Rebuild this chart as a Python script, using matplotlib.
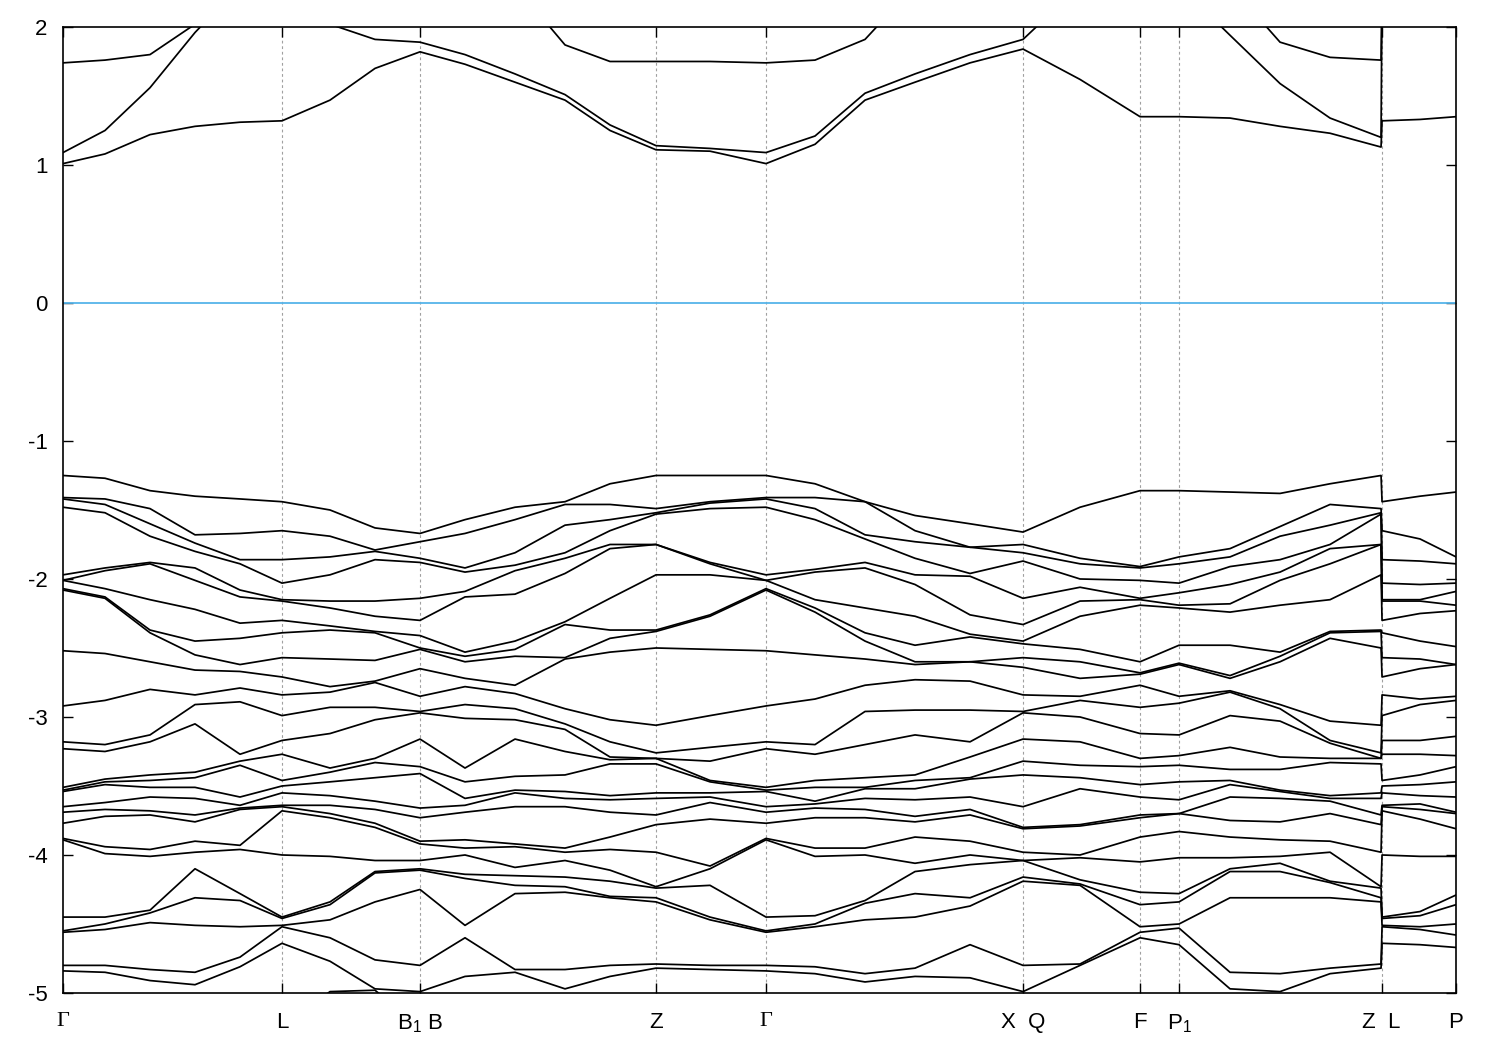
import numpy as np
import matplotlib
matplotlib.use("Agg")
import matplotlib.pyplot as plt

plt.rcParams['font.family'] = ['Liberation Sans', 'DejaVu Sans']
plt.rcParams['mathtext.default'] = 'regular'
plt.rcParams['axes.unicode_minus'] = False

# ---------------- k-path sample positions (arbitrary path units) ----------------
k_path = [0.00, 0.42, 0.87, 1.32, 1.77, 2.19, 2.67, 3.12, 3.57, 4.02, 4.52, 5.02,
          5.47, 5.93, 6.47, 7.03, 7.52, 8.02, 8.52, 9.07, 9.60, 10.17, 10.77, 11.16,
          11.67, 12.17, 12.67, 13.18, 13.19, 13.57, 13.93]

sym_pos = [0.00, 2.19, 3.57, 5.93, 7.03, 9.60, 10.77, 11.16, 13.185, 13.93]
sym_labels = ['Γ', 'L', 'B$_1$ B', 'Z', 'Γ', 'X  Q', 'F', 'P$_1$', 'Z  L', 'P']

# ---------------- valence bands: energies (eV) at each k sample, top to bottom ----------------
v_G   = [-1.25, -1.41, -1.42, -1.48, -1.97, -2.01, -2.01, -2.07, -2.08, -2.52, -2.92, -3.18, -3.23, -3.51, -3.53, -3.54, -3.65, -3.69, -3.77, -3.88, -3.89, -4.45, -4.55, -4.56, -4.80, -4.84, -5.25]
v_01  = [-1.27, -1.42, -1.46, -1.52, -1.92, -1.94, -2.07, -2.13, -2.14, -2.54, -2.88, -3.20, -3.25, -3.45, -3.47, -3.49, -3.62, -3.67, -3.72, -3.94, -3.99, -4.45, -4.50, -4.54, -4.80, -4.85, -5.25]
v_02  = [-1.36, -1.49, -1.60, -1.69, -1.88, -1.89, -2.15, -2.37, -2.39, -2.60, -2.80, -3.13, -3.18, -3.42, -3.46, -3.51, -3.58, -3.68, -3.71, -3.96, -4.01, -4.40, -4.42, -4.49, -4.83, -4.91, -5.25]
v_03  = [-1.40, -1.68, -1.74, -1.80, -1.92, -2.01, -2.22, -2.45, -2.55, -2.66, -2.84, -2.91, -3.05, -3.40, -3.44, -3.51, -3.59, -3.71, -3.76, -3.90, -3.98, -4.10, -4.31, -4.51, -4.85, -4.94, -5.25]
v_04  = [-1.42, -1.67, -1.86, -1.89, -2.08, -2.13, -2.32, -2.43, -2.62, -2.67, -2.79, -2.89, -3.27, -3.32, -3.35, -3.58, -3.64, -3.66, -3.67, -3.93, -3.96, -4.28, -4.33, -4.52, -4.74, -4.81, -5.25]
v_L   = [-1.44, -1.65, -1.86, -2.03, -2.15, -2.16, -2.30, -2.39, -2.57, -2.71, -2.84, -2.99, -3.17, -3.27, -3.46, -3.50, -3.55, -3.64, -3.65, -3.68, -4.00, -4.45, -4.46, -4.51, -4.52, -4.64, -5.25]
v_06  = [-1.50, -1.69, -1.84, -1.97, -2.16, -2.21, -2.34, -2.37, -2.58, -2.78, -2.82, -2.93, -3.12, -3.37, -3.40, -3.47, -3.57, -3.64, -3.70, -3.73, -4.01, -4.34, -4.36, -4.47, -4.60, -4.77, -4.99]
v_07  = [-1.63, -1.79, -1.80, -1.86, -2.16, -2.27, -2.38, -2.39, -2.59, -2.74, -2.75, -2.93, -3.02, -3.30, -3.33, -3.44, -3.61, -3.67, -3.77, -3.80, -4.04, -4.12, -4.13, -4.34, -4.76, -4.97, -4.98]
v_B   = [-1.67, -1.73, -1.85, -1.88, -2.14, -2.30, -2.41, -2.50, -2.51, -2.65, -2.85, -2.96, -2.97, -3.16, -3.36, -3.41, -3.66, -3.73, -3.90, -3.92, -4.04, -4.10, -4.11, -4.25, -4.80, -4.99, -5.25]
v_09  = [-1.57, -1.67, -1.92, -1.95, -2.09, -2.13, -2.53, -2.56, -2.60, -2.72, -2.78, -2.91, -3.01, -3.37, -3.47, -3.59, -3.64, -3.69, -3.89, -3.95, -4.00, -4.14, -4.17, -4.51, -4.60, -4.88, -5.25]
v_10  = [-1.48, -1.57, -1.81, -1.90, -1.94, -2.11, -2.45, -2.51, -2.56, -2.77, -2.83, -2.94, -3.02, -3.16, -3.43, -3.53, -3.55, -3.65, -3.92, -3.94, -4.09, -4.15, -4.22, -4.28, -4.83, -4.85, -5.25]
v_11  = [-1.44, -1.46, -1.61, -1.81, -1.85, -1.96, -2.31, -2.33, -2.57, -2.58, -2.94, -3.05, -3.09, -3.25, -3.42, -3.54, -3.59, -3.65, -3.95, -3.98, -4.04, -4.16, -4.23, -4.27, -4.83, -4.97, -5.25]
v_12  = [-1.31, -1.46, -1.57, -1.65, -1.75, -1.78, -2.14, -2.37, -2.43, -2.53, -3.02, -3.18, -3.29, -3.31, -3.34, -3.57, -3.60, -3.69, -3.87, -3.96, -4.11, -4.19, -4.30, -4.31, -4.80, -4.88, -5.25]
v_Z   = [-1.25, -1.49, -1.52, -1.53, -1.75, -1.75, -1.97, -2.37, -2.38, -2.50, -3.06, -3.26, -3.30, -3.30, -3.34, -3.55, -3.59, -3.71, -3.78, -3.98, -4.23, -4.24, -4.31, -4.34, -4.79, -4.82, -5.25]
v_14  = [-1.25, -1.44, -1.45, -1.49, -1.88, -1.89, -1.97, -2.26, -2.27, -2.51, -2.99, -3.22, -3.32, -3.46, -3.47, -3.55, -3.58, -3.62, -3.74, -4.08, -4.10, -4.22, -4.45, -4.47, -4.80, -4.83, -5.25]
v_16  = [-1.31, -1.41, -1.49, -1.57, -1.93, -1.95, -2.15, -2.21, -2.24, -2.55, -2.87, -3.20, -3.27, -3.46, -3.51, -3.61, -3.63, -3.66, -3.73, -3.95, -4.01, -4.44, -4.50, -4.52, -4.81, -4.86, -5.25]
v_17  = [-1.44, -1.44, -1.68, -1.71, -1.88, -1.92, -2.21, -2.39, -2.45, -2.58, -2.77, -2.96, -3.20, -3.44, -3.51, -3.52, -3.59, -3.67, -3.73, -3.95, -4.00, -4.33, -4.35, -4.47, -4.86, -4.92, -5.25]
v_18  = [-1.54, -1.65, -1.73, -1.85, -1.97, -2.04, -2.27, -2.48, -2.60, -2.62, -2.73, -2.95, -3.13, -3.42, -3.46, -3.52, -3.60, -3.72, -3.76, -3.87, -4.06, -4.12, -4.28, -4.45, -4.82, -4.88, -5.25]
v_19  = [-1.60, -1.77, -1.77, -1.96, -1.98, -2.26, -2.40, -2.42, -2.60, -2.60, -2.74, -2.95, -3.18, -3.29, -3.44, -3.45, -3.58, -3.67, -3.71, -3.90, -4.00, -4.07, -4.31, -4.37, -4.65, -4.89, -5.25]
v_X   = [-1.66, -1.75, -1.81, -1.87, -2.14, -2.33, -2.45, -2.47, -2.57, -2.64, -2.84, -2.96, -2.97, -3.16, -3.32, -3.42, -3.65, -3.80, -3.81, -3.98, -4.04, -4.04, -4.16, -4.19, -4.80, -4.99, -5.25]
v_21  = [-1.48, -1.85, -1.89, -2.00, -2.06, -2.16, -2.27, -2.51, -2.60, -2.72, -2.85, -2.88, -3.00, -3.18, -3.35, -3.44, -3.52, -3.78, -3.79, -4.00, -4.02, -4.18, -4.21, -4.22, -4.79, -4.80, -5.25]
v_F   = [-1.36, -1.91, -1.92, -2.01, -2.14, -2.15, -2.19, -2.60, -2.68, -2.69, -2.77, -2.93, -3.12, -3.30, -3.36, -3.49, -3.58, -3.71, -3.73, -3.87, -4.05, -4.27, -4.36, -4.52, -4.56, -4.60, -5.25]
v_P1  = [-1.36, -1.84, -1.89, -2.03, -2.10, -2.19, -2.21, -2.48, -2.61, -2.62, -2.85, -2.90, -3.13, -3.28, -3.35, -3.47, -3.60, -3.70, -3.70, -3.83, -4.02, -4.28, -4.34, -4.50, -4.53, -4.65, -5.25]
v_24  = [-1.37, -1.78, -1.84, -1.91, -2.04, -2.18, -2.24, -2.48, -2.70, -2.72, -2.81, -2.82, -2.99, -3.22, -3.38, -3.46, -3.49, -3.58, -3.75, -3.87, -4.02, -4.10, -4.12, -4.31, -4.85, -4.97, -5.25]
v_25  = [-1.38, -1.62, -1.69, -1.86, -1.95, -2.01, -2.19, -2.53, -2.56, -2.60, -2.91, -2.94, -3.03, -3.29, -3.38, -3.53, -3.54, -3.59, -3.76, -3.89, -4.01, -4.06, -4.12, -4.31, -4.86, -4.99, -5.25]
v_26  = [-1.31, -1.46, -1.61, -1.75, -1.78, -1.89, -2.15, -2.38, -2.39, -2.43, -3.03, -3.17, -3.19, -3.30, -3.33, -3.57, -3.59, -3.61, -3.70, -3.90, -3.98, -4.19, -4.20, -4.31, -4.82, -4.86, -5.25]
v_LP1 = [-1.40, -1.71, -1.87, -2.04, -2.15, -2.16, -2.25, -2.45, -2.58, -2.65, -2.87, -2.91, -3.17, -3.27, -3.42, -3.49, -3.57, -3.63, -3.67, -3.74, -4.01, -4.41, -4.44, -4.52, -4.54, -4.65, -5.25]
v_P   = [-1.37, -1.84, -1.89, -2.03, -2.09, -2.19, -2.23, -2.49, -2.62, -2.62, -2.85, -2.88, -3.14, -3.28, -3.36, -3.47, -3.58, -3.69, -3.70, -3.81, -4.01, -4.29, -4.36, -4.50, -4.58, -4.67, -5.25]

# ---------------- conduction bands (eV), bottom to top; values above 2 are off-scale ----------------
c_G   = [1.01, 1.09, 1.74]
c_01  = [1.08, 1.25, 1.76]
c_02  = [1.22, 1.56, 1.80]
c_03  = [1.28, 1.96, 2.02]
c_04  = [1.31, 2.30, 2.30]
c_L   = [1.32, 2.30, 2.30]
c_06  = [1.47, 2.02, 2.30]
c_07  = [1.70, 1.91, 2.30]
c_B   = [1.82, 1.89, 2.30]
c_09  = [1.73, 1.80, 2.30]
c_10  = [1.60, 1.66, 2.30]
c_11  = [1.47, 1.51, 1.87]
c_12  = [1.25, 1.29, 1.75]
c_Z   = [1.11, 1.14, 1.75]
c_14  = [1.10, 1.12, 1.75]
c_16  = [1.15, 1.21, 1.76]
c_17  = [1.47, 1.52, 1.91]
c_18  = [1.60, 1.66, 2.30]
c_19  = [1.74, 1.80, 2.30]
c_X   = [1.84, 1.91, 2.30]
c_21  = [1.62, 2.30, 2.30]
c_F   = [1.35, 2.30, 2.30]
c_P1  = [1.35, 2.30, 2.30]
c_24  = [1.34, 1.94, 2.30]
c_25  = [1.28, 1.59, 1.89]
c_26  = [1.23, 1.34, 1.78]
c_Z2  = [1.13, 1.20, 1.76]
c_LP1 = [1.33, 2.30, 2.30]
c_P   = [1.35, 2.30, 2.30]

valence_cols = [v_G, v_01, v_02, v_03, v_04, v_L, v_06, v_07, v_B, v_09, v_10, v_11, v_12,
                v_Z, v_14, v_G, v_16, v_17, v_18, v_19, v_X, v_21, v_F, v_P1, v_24, v_25,
                v_26, v_Z, v_L, v_LP1, v_P]
conduction_cols = [c_G, c_01, c_02, c_03, c_04, c_L, c_06, c_07, c_B, c_09, c_10, c_11, c_12,
                   c_Z, c_14, c_G, c_16, c_17, c_18, c_19, c_X, c_21, c_F, c_P1, c_24, c_25,
                   c_26, c_Z2, c_L, c_LP1, c_P]

val = np.array(valence_cols)
con = np.array(conduction_cols)

fig = plt.figure(figsize=(15, 10.5), dpi=100)
ax = fig.add_axes([0.042, 0.0543, 0.9287, 0.92])

for xp in sym_pos[1:-1]:
    ax.axvline(xp, color='#a0a0a0', lw=0.8, ls=(0, (2.5, 2.5)), zorder=1)
ax.axhline(0, color='#56b4e9', lw=1.3, zorder=2)

for j in range(val.shape[1]):
    ax.plot(k_path, val[:, j], color='black', lw=1.25, zorder=3, solid_joinstyle='round')
for j in range(con.shape[1]):
    ax.plot(k_path, con[:, j], color='black', lw=1.25, zorder=3, solid_joinstyle='round')

ax.set_xlim(0, 13.93)
ax.set_ylim(-5, 2)
ax.set_yticks([2, 1, 0, -1, -2, -3, -4, -5])
ax.set_yticklabels(['2', '1', '0', '-1', '-2', '-3', '-4', '-5'])
ax.set_xticks(sym_pos)
ax.set_xticklabels(sym_labels)
for lab in ax.get_xticklabels():
    if lab.get_text() == 'Γ':
        lab.set_family(['Liberation Serif', 'DejaVu Serif'])

ax.tick_params(axis='both', direction='in', length=7, width=1.0, top=True, right=True,
               labelsize=16, colors='black')
ax.tick_params(axis='y', pad=11)
ax.tick_params(axis='x', pad=14)
for sp in ax.spines.values():
    sp.set_linewidth(1.2)
    sp.set_color('black')

fig.savefig('out.png', dpi=100)
